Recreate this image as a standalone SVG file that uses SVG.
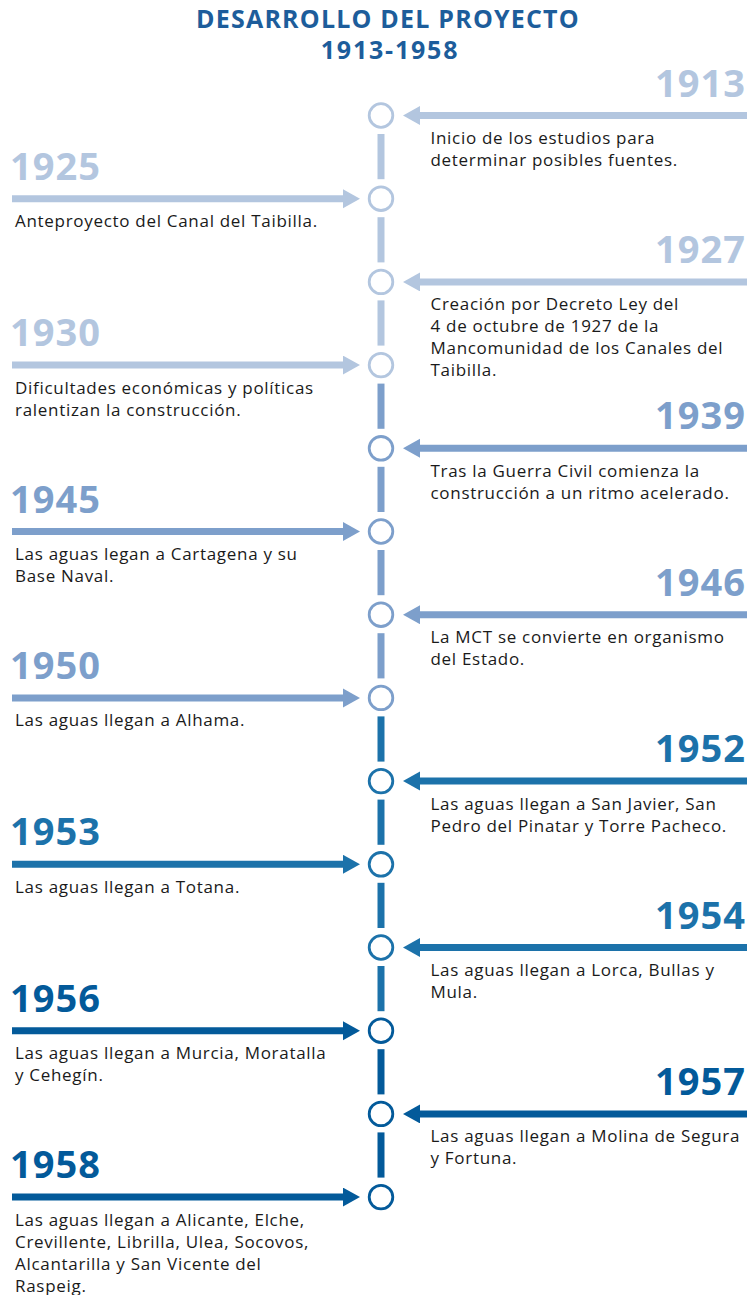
<svg xmlns="http://www.w3.org/2000/svg" width="747" height="1295" viewBox="0 0 747 1295">
<style>
.title{font-family:"Open Sans","Liberation Sans",sans-serif;font-weight:700;font-size:25px;fill:#1d5d9b;text-anchor:middle}
.yr{font-family:"Open Sans","Liberation Sans",sans-serif;font-weight:700;font-size:38px;letter-spacing:1px}
.yr.r{text-anchor:end}
.txt{font-family:"Open Sans","Liberation Sans",sans-serif;font-size:17px;letter-spacing:0.7px;fill:#1a1a1a}
.c1{fill:#b3c6df;stroke:#b3c6df}
.c2{fill:#7d9fcb;stroke:#7d9fcb}
.c3{fill:#1c72aa;stroke:#1c72aa}
.c4{fill:#035a9a;stroke:#035a9a}
text.c1,text.c2,text.c3,text.c4{stroke:none}
circle.node{fill:#fff;stroke-width:2.8}
line.seg{stroke-width:7}
line.arr{stroke-width:7}
</style>
<defs>
<marker id="h1" markerUnits="userSpaceOnUse" markerWidth="18" markerHeight="20" refX="0" refY="9.5" orient="auto"><path d="M0,0 L17,9.5 L0,19 z" fill="#b3c6df"/></marker>
<marker id="h2" markerUnits="userSpaceOnUse" markerWidth="18" markerHeight="20" refX="0" refY="9.5" orient="auto"><path d="M0,0 L17,9.5 L0,19 z" fill="#7d9fcb"/></marker>
<marker id="h3" markerUnits="userSpaceOnUse" markerWidth="18" markerHeight="20" refX="0" refY="9.5" orient="auto"><path d="M0,0 L17,9.5 L0,19 z" fill="#1c72aa"/></marker>
<marker id="h4" markerUnits="userSpaceOnUse" markerWidth="18" markerHeight="20" refX="0" refY="9.5" orient="auto"><path d="M0,0 L17,9.5 L0,19 z" fill="#035a9a"/></marker>
</defs>
<g id="title">
<text class="title" x="388" y="27.5" style="letter-spacing:1.2px">DESARROLLO DEL PROYECTO</text>
<text class="title" x="390" y="58.5" style="letter-spacing:1.8px">1913-1958</text>
</g>
<g id="connectors">
<line class="seg c1" x1="381" y1="134" x2="381" y2="179.2"/>
<line class="seg c1" x1="381" y1="217.2" x2="381" y2="262.4"/>
<line class="seg c1" x1="381" y1="300.4" x2="381" y2="345.6"/>
<line class="seg c2" x1="381" y1="383.6" x2="381" y2="428.8"/>
<line class="seg c2" x1="381" y1="466.8" x2="381" y2="512"/>
<line class="seg c2" x1="381" y1="550" x2="381" y2="595.2"/>
<line class="seg c2" x1="381" y1="633.2" x2="381" y2="678.4"/>
<line class="seg c3" x1="381" y1="716.4" x2="381" y2="761.6"/>
<line class="seg c3" x1="381" y1="799.6" x2="381" y2="844.8"/>
<line class="seg c3" x1="381" y1="882.8" x2="381" y2="928"/>
<line class="seg c3" x1="381" y1="966" x2="381" y2="1011.2"/>
<line class="seg c4" x1="381" y1="1049.2" x2="381" y2="1094.4"/>
<line class="seg c4" x1="381" y1="1132.4" x2="381" y2="1177.6"/>
<line class="arr c1" x1="747" y1="115.5" x2="420" y2="115.5" marker-end="url(#h1)"/>
<line class="arr c1" x1="12" y1="198.7" x2="343" y2="198.7" marker-end="url(#h1)"/>
<line class="arr c1" x1="747" y1="281.9" x2="420" y2="281.9" marker-end="url(#h1)"/>
<line class="arr c1" x1="12" y1="365.1" x2="343" y2="365.1" marker-end="url(#h1)"/>
<line class="arr c2" x1="747" y1="448.3" x2="420" y2="448.3" marker-end="url(#h2)"/>
<line class="arr c2" x1="12" y1="531.5" x2="343" y2="531.5" marker-end="url(#h2)"/>
<line class="arr c2" x1="747" y1="614.7" x2="420" y2="614.7" marker-end="url(#h2)"/>
<line class="arr c2" x1="12" y1="697.9" x2="343" y2="697.9" marker-end="url(#h2)"/>
<line class="arr c3" x1="747" y1="781.1" x2="420" y2="781.1" marker-end="url(#h3)"/>
<line class="arr c3" x1="12" y1="864.3" x2="343" y2="864.3" marker-end="url(#h3)"/>
<line class="arr c3" x1="747" y1="947.5" x2="420" y2="947.5" marker-end="url(#h3)"/>
<line class="arr c4" x1="12" y1="1030.7" x2="343" y2="1030.7" marker-end="url(#h4)"/>
<line class="arr c4" x1="747" y1="1113.9" x2="420" y2="1113.9" marker-end="url(#h4)"/>
<line class="arr c4" x1="12" y1="1197.1" x2="343" y2="1197.1" marker-end="url(#h4)"/>
</g>
<g id="n1913">
<circle class="node c1" cx="381" cy="115.5" r="11.8" style="fill:#fff"/>
<text class="yr r c1" x="746" y="96.5">1913</text>
<text class="txt" x="430.5" y="144"><tspan x="430.5">Inicio de los estudios para</tspan><tspan x="430.5" dy="22">determinar posibles fuentes.</tspan></text>
</g>
<g id="n1925">
<circle class="node c1" cx="381" cy="198.7" r="11.8" style="fill:#fff"/>
<text class="yr c1" x="10" y="179.7">1925</text>
<text class="txt" x="15" y="227.2">Anteproyecto del Canal del Taibilla.</text>
</g>
<g id="n1927">
<circle class="node c1" cx="381" cy="281.9" r="11.8" style="fill:#fff"/>
<text class="yr r c1" x="746" y="262.9">1927</text>
<text class="txt" x="430.5" y="310.4"><tspan x="430.5">Creación por Decreto Ley del</tspan><tspan x="430.5" dy="22">4 de octubre de 1927 de la</tspan><tspan x="430.5" dy="22">Mancomunidad de los Canales del</tspan><tspan x="430.5" dy="22">Taibilla.</tspan></text>
</g>
<g id="n1930">
<circle class="node c1" cx="381" cy="365.1" r="11.8" style="fill:#fff"/>
<text class="yr c1" x="10" y="346.1">1930</text>
<text class="txt" x="15" y="393.6"><tspan x="15">Dificultades económicas y políticas</tspan><tspan x="15" dy="22">ralentizan la construcción.</tspan></text>
</g>
<g id="n1939">
<circle class="node c2" cx="381" cy="448.3" r="11.8" style="fill:#fff"/>
<text class="yr r c2" x="746" y="429.3">1939</text>
<text class="txt" x="430.5" y="476.8"><tspan x="430.5">Tras la Guerra Civil comienza la</tspan><tspan x="430.5" dy="22">construcción a un ritmo acelerado.</tspan></text>
</g>
<g id="n1945">
<circle class="node c2" cx="381" cy="531.5" r="11.8" style="fill:#fff"/>
<text class="yr c2" x="10" y="512.5">1945</text>
<text class="txt" x="15" y="560"><tspan x="15">Las aguas legan a Cartagena y su</tspan><tspan x="15" dy="22">Base Naval.</tspan></text>
</g>
<g id="n1946">
<circle class="node c2" cx="381" cy="614.7" r="11.8" style="fill:#fff"/>
<text class="yr r c2" x="746" y="595.7">1946</text>
<text class="txt" x="430.5" y="643.2"><tspan x="430.5">La MCT se convierte en organismo</tspan><tspan x="430.5" dy="22">del Estado.</tspan></text>
</g>
<g id="n1950">
<circle class="node c2" cx="381" cy="697.9" r="11.8" style="fill:#fff"/>
<text class="yr c2" x="10" y="678.9">1950</text>
<text class="txt" x="15" y="726.4">Las aguas llegan a Alhama.</text>
</g>
<g id="n1952">
<circle class="node c3" cx="381" cy="781.1" r="11.8" style="fill:#fff"/>
<text class="yr r c3" x="746" y="762.1">1952</text>
<text class="txt" x="430.5" y="809.6"><tspan x="430.5">Las aguas llegan a San Javier, San</tspan><tspan x="430.5" dy="22">Pedro del Pinatar y Torre Pacheco.</tspan></text>
</g>
<g id="n1953">
<circle class="node c3" cx="381" cy="864.3" r="11.8" style="fill:#fff"/>
<text class="yr c3" x="10" y="845.3">1953</text>
<text class="txt" x="15" y="892.8">Las aguas llegan a Totana.</text>
</g>
<g id="n1954">
<circle class="node c3" cx="381" cy="947.5" r="11.8" style="fill:#fff"/>
<text class="yr r c3" x="746" y="928.5">1954</text>
<text class="txt" x="430.5" y="976"><tspan x="430.5">Las aguas llegan a Lorca, Bullas y</tspan><tspan x="430.5" dy="22">Mula.</tspan></text>
</g>
<g id="n1956">
<circle class="node c4" cx="381" cy="1030.7" r="11.8" style="fill:#fff"/>
<text class="yr c4" x="10" y="1011.7">1956</text>
<text class="txt" x="15" y="1059.2"><tspan x="15">Las aguas llegan a Murcia, Moratalla</tspan><tspan x="15" dy="22">y Cehegín.</tspan></text>
</g>
<g id="n1957">
<circle class="node c4" cx="381" cy="1113.9" r="11.8" style="fill:#fff"/>
<text class="yr r c4" x="746" y="1094.9">1957</text>
<text class="txt" x="430.5" y="1142.4"><tspan x="430.5">Las aguas llegan a Molina de Segura</tspan><tspan x="430.5" dy="22">y Fortuna.</tspan></text>
</g>
<g id="n1958">
<circle class="node c4" cx="381" cy="1197.1" r="11.8" style="fill:#fff"/>
<text class="yr c4" x="10" y="1178.1">1958</text>
<text class="txt" x="15" y="1225.6"><tspan x="15">Las aguas llegan a Alicante, Elche,</tspan><tspan x="15" dy="22">Crevillente, Librilla, Ulea, Socovos,</tspan><tspan x="15" dy="22">Alcantarilla y San Vicente del</tspan><tspan x="15" dy="22">Raspeig.</tspan></text>
</g>
</svg>
